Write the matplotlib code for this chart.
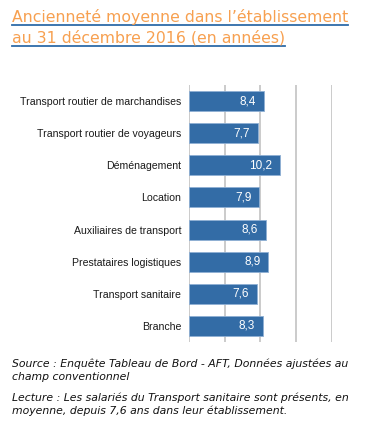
import matplotlib.pyplot as plt
from matplotlib.lines import Line2D

categories = ["Transport routier de marchandises", "Transport routier de voyageurs",
              "Déménagement", "Location", "Auxiliaires de transport",
              "Prestataires logistiques", "Transport sanitaire", "Branche"]
values = [8.4, 7.7, 10.2, 7.9, 8.6, 8.9, 7.6, 8.3]
labels = ["8,4", "7,7", "10,2", "7,9", "8,6", "8,9", "7,6", "8,3"]

W, H = 384, 433
fig = plt.figure(figsize=(W / 100, H / 100), dpi=100)

ax = fig.add_axes([189 / W, 1 - 342 / H, (332 - 189) / W, (342 - 85) / H])
ypos = list(range(len(categories)))
ax.barh(ypos, values, height=0.62, color="#336CA6", edgecolor="#8FB0D4", linewidth=0.6, zorder=3)
ax.set_xlim(0, 16.05)
ax.set_ylim(len(categories) - 0.5, -0.5)
ax.set_xticks([0, 4, 8, 12, 16])
ax.set_xticklabels([])
ax.tick_params(axis="x", length=0)
ax.tick_params(axis="y", length=0, pad=5.5)
ax.set_yticks(ypos)
ax.set_yticklabels(categories, fontsize=7.6, family="Liberation Sans", color="#1a1a1a")
ax.grid(axis="x", color="#BDBDBD", linewidth=1.1, zorder=0)
for s in ax.spines.values():
    s.set_visible(False)

for y, v, t in zip(ypos, values, labels):
    ax.text(v - 0.9, y, t, ha="right", va="center", color="white",
            fontsize=8.5, family="Liberation Sans", zorder=4)

orange = "#F7A050"
t1 = fig.text(12 / W, 1 - 17 / H, "Ancienneté moyenne dans l’établissement", fontsize=11.3,
              color=orange, va="center", ha="left", family="DejaVu Sans")
t2 = fig.text(12 / W, 1 - 38 / H, "au 31 décembre 2016 (en années)", fontsize=11.3,
              color=orange, va="center", ha="left", family="DejaVu Sans")

fig.canvas.draw()
r = fig.canvas.get_renderer()
for t, yl in [(t1, 25), (t2, 46)]:
    bb = t.get_window_extent(r)
    fig.add_artist(Line2D([bb.x0 / W, bb.x1 / W], [1 - yl / H, 1 - yl / H],
                          transform=fig.transFigure, color="#2E6BA8", linewidth=1.3))

foot = dict(fontsize=7.8, style="italic", color="#111111", va="center", ha="left", family="DejaVu Sans")
fig.text(12 / W, 1 - 364 / H, "Source : Enquête Tableau de Bord - AFT, Données ajustées au", **foot)
fig.text(12 / W, 1 - 377 / H, "champ conventionnel", **foot)
fig.text(12 / W, 1 - 398 / H, "Lecture : Les salariés du Transport sanitaire sont présents, en", **foot)
fig.text(12 / W, 1 - 411 / H, "moyenne, depuis 7,6 ans dans leur établissement.", **foot)

fig.savefig("out.png", dpi=100)
